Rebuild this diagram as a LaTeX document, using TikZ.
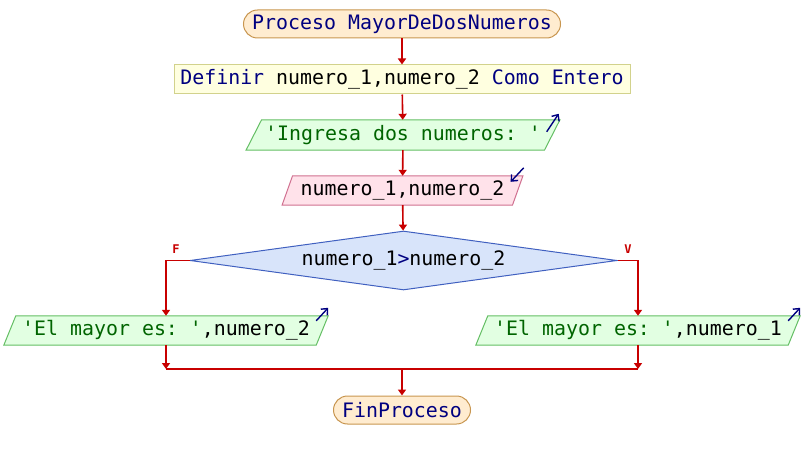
\documentclass[tikz,border=0pt]{standalone}
\usepackage{fontspec}
\setmonofont{DejaVu Sans Mono}
\usetikzlibrary{arrows.meta,shapes.geometric,backgrounds}
\definecolor{kw}{RGB}{0,0,128}
\definecolor{strc}{RGB}{0,100,0}
\definecolor{flow}{RGB}{200,0,0}
\definecolor{termfill}{RGB}{255,236,208}
\definecolor{termdraw}{RGB}{200,150,80}
\definecolor{deffill}{RGB}{255,255,224}
\definecolor{defdraw}{RGB}{210,210,140}
\definecolor{outfill}{RGB}{226,255,226}
\definecolor{outdraw}{RGB}{100,190,100}
\definecolor{infill}{RGB}{255,226,234}
\definecolor{indraw}{RGB}{208,112,144}
\definecolor{decfill}{RGB}{216,228,250}
\definecolor{decdraw}{RGB}{64,96,192}
\tikzset{
  x=1pt,y=-1pt,
  every node/.style={font=\ttfamily\fontsize{19.9}{24}\selectfont, inner sep=0pt},
  term/.style={draw=termdraw, fill=termfill, line width=1pt, rounded corners=14pt, minimum height=28pt},
  defbox/.style={draw=defdraw, fill=deffill, line width=1pt, minimum height=29pt},
  iobox/.style={minimum height=30pt},
  decbox/.style={diamond, aspect=7.2, draw=decdraw, fill=decfill, line width=1pt, minimum width=427pt, minimum height=59pt},
  flowline/.style={draw=flow, line width=1.6pt},
  flowarrow/.style={flowline, -{Triangle[width=8pt,length=6pt]}},
  iconarrow/.style={draw=kw, line width=1.4pt, -{Straight Barb[length=5pt,width=9pt]}},
  lbl/.style={text=flow, font=\ttfamily\bfseries\fontsize{12}{14}\selectfont}
}
\newcommand{\parallelo}[4]{% node, slant, fill, draw
  \begin{scope}[on background layer]
  \filldraw[fill=#3, draw=#4, line width=1pt]
    ([xshift=#2]#1.north west) -- ([xshift=#2]#1.north east) --
    ([xshift=-#2]#1.south east) -- ([xshift=-#2]#1.south west) -- cycle;
  \end{scope}}
\begin{document}
\begin{tikzpicture}
\useasboundingbox (0,0) rectangle (804,460);

\node[term, minimum width=317pt, text=kw] (start) at (402,24) {Proceso MayorDeDosNumeros};
\node[defbox, minimum width=456pt] (def) at (402,79.5) {\textcolor{kw}{Definir} numero\_1,numero\_2 \textcolor{kw}{Como Entero}};
\node[iobox, minimum width=298pt, text=strc] (out1) at (403,135) {'Ingresa dos numeros: '};
\parallelo{out1}{7.75pt}{outfill}{outdraw}
\node[iobox, minimum width=230pt, minimum height=29pt] (in1) at (402.5,190.5) {numero\_1,numero\_2};
\parallelo{in1}{5.25pt}{infill}{indraw}
\node[decbox] (dec) at (403.5,260.5) {numero\_1\textcolor{kw}{>}numero\_2};
\node[iobox, minimum width=312pt, minimum height=29pt] (outL) at (166,330.5) {\textcolor{strc}{'El mayor es: '},numero\_2};
\parallelo{outL}{6pt}{outfill}{outdraw}
\node[iobox, minimum width=312pt, minimum height=29pt] (outR) at (638,330.5) {\textcolor{strc}{'El mayor es: '},numero\_1};
\parallelo{outR}{6pt}{outfill}{outdraw}
\node[term, minimum width=137pt, text=kw] (fin) at (402,410) {FinProceso};

% icons
\draw[iconarrow] ([xshift=-5.5pt,yshift=-12pt]out1.north east) -- ([xshift=6.5pt,yshift=6pt]out1.north east);
\draw[iconarrow] ([xshift=6pt,yshift=8pt]in1.north east) -- ([xshift=-7pt,yshift=-6pt]in1.north east);
\draw[iconarrow] ([xshift=-6pt,yshift=-5pt]outL.north east) -- ([xshift=6pt,yshift=8pt]outL.north east);
\draw[iconarrow] ([xshift=-6pt,yshift=-5pt]outR.north east) -- ([xshift=6pt,yshift=8pt]outR.north east);

% flow
\draw[flowarrow] (start) -- (def);
\draw[flowarrow] (def) -- (out1);
\draw[flowarrow] (out1) -- (in1);
\draw[flowarrow] (in1) -- (dec);
\coordinate (fl) at (166,260.5);
\coordinate (fr) at (638,260.5);
\draw[flowarrow] (dec.west) -- (fl) -- (fl |- outL.north);
\draw[flowarrow] (dec.east) -- (fr) -- (fr |- outR.north);
\node[lbl] (F) at (176,249) {F};
\node[lbl] (V) at (628,249) {V};
\coordinate (jl) at (166,369);
\coordinate (jr) at (638,369);
\coordinate (jm) at (402,369);
\draw[flowarrow] (outL.south -| jl) -- (jl);
\draw[flowarrow] (outR.south -| jr) -- (jr);
\draw[flowline] (jl) -- (jr);
\draw[flowarrow] (jm) -- (fin);
\end{tikzpicture}
\end{document}
